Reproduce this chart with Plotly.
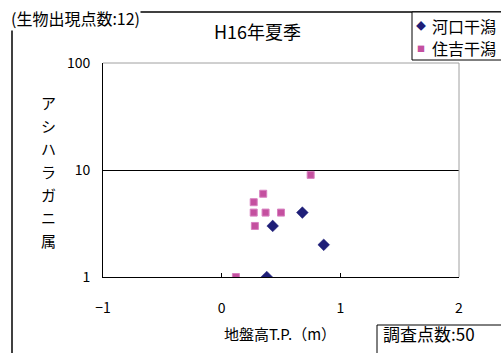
import plotly.graph_objects as go

# ---- data ----
kawaguchi_x = [0.68, 0.43, 0.86, 0.38]
kawaguchi_y = [4, 3, 2, 1]
sumiyoshi_x = [0.75, 0.35, 0.27, 0.27, 0.37, 0.50, 0.28, 0.12]
sumiyoshi_y = [9, 6, 5, 4, 4, 4, 3, 1]
series_names = ["河口干潟", "住吉干潟"]
series_colors = ["#1f1f78", "#c4509f"]
x_ticks = [-1, 0, 1, 2]
y_ticks = [1, 10, 100]
y_tick_text = ["1", "10", "100"]
title_text = "H16年夏季"
y_title_chars = list("アシハラガニ属")
x_title = "地盤高T.P.（m）"
count_text = "(生物出現点数:12)"
survey_text = "調査点数:50"

W, H = 501, 353
L, R, T, B = 103, 459, 63, 277
FONT = "Noto Sans CJK JP"


def px(x):
    return (x - L) / (R - L)


def py(y):
    return (B - y) / (B - T)


fig = go.Figure()
fig.add_trace(go.Scatter(
    x=kawaguchi_x, y=kawaguchi_y, mode="markers", name=series_names[0],
    marker=dict(symbol="diamond", size=9, color=series_colors[0],
                line=dict(width=0.5, color=series_colors[0])),
))
fig.add_trace(go.Scatter(
    x=sumiyoshi_x, y=sumiyoshi_y, mode="markers", name=series_names[1],
    marker=dict(symbol="square", size=7, color=series_colors[1],
                line=dict(width=1, color="#d880c0")),
))

shapes = [
    # outer chart frame (left and top)
    dict(type="line", xref="paper", yref="paper", x0=px(12), x1=px(12), y0=py(12), y1=py(360),
         line=dict(color="black", width=1.5)),
    dict(type="line", xref="paper", yref="paper", x0=px(12), x1=px(510), y0=py(12), y1=py(12),
         line=dict(color="black", width=1.5)),
    # plot area top/right (gray)
    dict(type="line", xref="paper", yref="paper", x0=0, x1=1, y0=1, y1=1,
         line=dict(color="#a0a0a0", width=1)),
    dict(type="line", xref="paper", yref="paper", x0=1, x1=1, y0=0, y1=1,
         line=dict(color="#a0a0a0", width=1)),
    # legend box
    dict(type="rect", xref="paper", yref="paper", x0=px(412), x1=px(520), y0=py(60), y1=py(12),
         line=dict(color="black", width=1), fillcolor="white"),
    # survey-count box
    dict(type="rect", xref="paper", yref="paper", x0=px(377), x1=px(520), y0=py(325), y1=py(370),
         line=dict(color="black", width=1), fillcolor="white"),
]

annotations = [
    dict(text=count_text, xref="paper", yref="paper", x=px(10), y=py(18), xanchor="left",
         yanchor="middle", showarrow=False, bgcolor="white", borderpad=0,
         font=dict(family=FONT, size=16, color="black")),
    dict(text=title_text, xref="paper", yref="paper", x=px(257), y=py(31), xanchor="center",
         yanchor="middle", showarrow=False, font=dict(family=FONT, size=18, color="black")),
    dict(text=x_title, xref="paper", yref="paper", x=px(280), y=py(334), xanchor="center",
         yanchor="middle", showarrow=False, font=dict(family=FONT, size=15, color="black")),
    dict(text=survey_text, xref="paper", yref="paper", x=px(381), y=py(334), xanchor="left",
         yanchor="middle", showarrow=False, font=dict(family=FONT, size=17, color="black")),
]
# legend entries (drawn manually)
legend_glyphs = ["◆", "■"]
legend_glyph_sizes = [10, 8]
for i, (name, col) in enumerate(zip(series_names, series_colors)):
    yy = 26 + 22 * i
    annotations.append(dict(text=legend_glyphs[i], xref="paper", yref="paper", x=px(421), y=py(yy),
                            xanchor="center", yanchor="middle", showarrow=False, borderpad=0,
                            font=dict(family=FONT, size=legend_glyph_sizes[i], color=col)))
    annotations.append(dict(text=name, xref="paper", yref="paper", x=px(431), y=py(yy),
                            xanchor="left", yanchor="middle", showarrow=False, borderpad=0,
                            font=dict(family=FONT, size=16, color="black")))
for i, ch in enumerate(y_title_chars):
    annotations.append(dict(text=ch, xref="paper", yref="paper", x=px(48), y=py(102 + 23 * i),
                            xanchor="center", yanchor="middle", showarrow=False,
                            font=dict(family=FONT, size=15, color="black")))

fig.update_layout(
    width=W, height=H,
    margin=dict(l=L, r=W - R, t=T, b=H - B, pad=0, autoexpand=False),
    paper_bgcolor="white", plot_bgcolor="white",
    font=dict(family=FONT, size=13, color="black"),
    showlegend=False,
    xaxis=dict(range=[-1, 2], tickvals=x_ticks, ticks="inside", ticklen=4, tickcolor="black",
               showline=True, linecolor="black", linewidth=1, showgrid=False, zeroline=False,
               ticklabelstandoff=18, tickfont=dict(family=FONT, size=14)),
    yaxis=dict(type="log", range=[0, 2], tickvals=y_ticks, ticktext=y_tick_text,
               ticks="inside", ticklen=5, tickcolor="black",
               showline=True, linecolor="black", linewidth=1, showgrid=True,
               gridcolor="black", gridwidth=1, zeroline=False,
               ticklabelstandoff=9, tickfont=dict(family=FONT, size=14)),
    shapes=shapes,
    annotations=annotations,
)

fig.write_html("out.html", config={"displayModeBar": False},
               post_script="document.body.style.margin='0px';")
